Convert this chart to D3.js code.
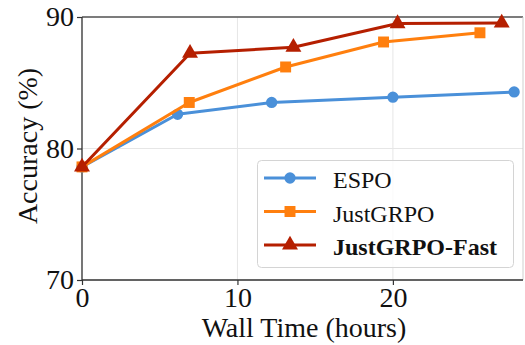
<!DOCTYPE html>
<html>
<head>
<meta charset="utf-8">
<script src="https://cdn.jsdelivr.net/npm/d3@7"></script>
<style>
  body { margin: 0; background: #fff; }
  svg text { font-family: "Liberation Serif", "DejaVu Serif", serif; }
</style>
</head>
<body>
<div class="canvas"></div>
<script>
// data
const seriesNames = ['ESPO', 'JustGRPO', 'JustGRPO-Fast'];
const espoHours = [0, 6.15, 12.2, 20.0, 27.8];
const espoAcc   = [78.6, 82.6, 83.5, 83.9, 84.3];
const grpoHours = [0, 6.9, 13.1, 19.4, 25.6];
const grpoAcc   = [78.6, 83.5, 86.2, 88.1, 88.8];
const fastHours = [0, 6.95, 13.6, 20.3, 27.0];
const fastAcc   = [78.6, 87.25, 87.7, 89.5, 89.55];
const xTicks = [0, 10, 20];
const yTicks = [70, 80, 90];

const colors = ['#4a90d9', '#ff7f0e', '#b51f00'];
const markers = [d3.symbolCircle, d3.symbolSquare, d3.symbolTriangle];
const markerSize = [100, 120, 110];

const series = seriesNames.map((name, i) => {
  const hrs = [espoHours, grpoHours, fastHours][i];
  const acc = [espoAcc, grpoAcc, fastAcc][i];
  return { name, color: colors[i], marker: markers[i], size: markerSize[i],
           points: hrs.map((h, j) => ({ x: h, y: acc[j] })) };
});

//Graph setup
const W = 525, H = 345;
const m = { left: 82, right: 2, top: 17, bottom: 65 };
const svg = d3.select('.canvas').append('svg')
              .attr('width', W).attr('height', H);

const x = d3.scaleLinear().domain([0, 28.37]).range([m.left, W - m.right]);
const y = d3.scaleLinear().domain([70, 90]).range([H - m.bottom, m.top]);

// grid
svg.append('g').selectAll('line').data(xTicks).join('line')
   .attr('x1', d => x(d)).attr('x2', d => x(d))
   .attr('y1', y(70)).attr('y2', y(90))
   .attr('stroke', '#e6e6e6').attr('stroke-width', 1);
svg.append('g').selectAll('line').data(yTicks).join('line')
   .attr('x1', x(0)).attr('x2', W - m.right)
   .attr('y1', d => y(d)).attr('y2', d => y(d))
   .attr('stroke', '#e6e6e6').attr('stroke-width', 1);

// spines: top dark, right light
svg.append('line').attr('x1', x(0)).attr('x2', W - m.right)
   .attr('y1', y(90)).attr('y2', y(90)).attr('stroke', '#555').attr('stroke-width', 1.5);
svg.append('line').attr('x1', W - m.right).attr('x2', W - m.right)
   .attr('y1', y(90)).attr('y2', y(70)).attr('stroke', '#cfcfcf').attr('stroke-width', 1);

// axes
const xAxis = svg.append('g').attr('transform', `translate(0,${y(70)})`)
   .call(d3.axisBottom(x).tickValues(xTicks).tickSize(5).tickPadding(2));
const yAxis = svg.append('g').attr('transform', `translate(${x(0)},0)`)
   .call(d3.axisLeft(y).tickValues(yTicks).tickSize(5).tickPadding(3));
[xAxis, yAxis].forEach(a => {
  a.select('.domain').attr('stroke', '#333').attr('stroke-width', 1.3);
  a.selectAll('.tick line').attr('stroke', '#333').attr('stroke-width', 1.2);
  a.selectAll('.tick text').attr('font-family', '"Liberation Serif", serif')
   .attr('font-size', 28).attr('fill', '#111');
});
xAxis.select('.domain').attr('d', `M${x(0)},0H${W - m.right}`);
yAxis.select('.domain').attr('d', `M0,${y(90)}V${y(70)}`);

// axis titles
svg.append('text').attr('x', 304).attr('y', 337).attr('text-anchor', 'middle')
   .attr('font-size', 28).attr('fill', '#111').text('Wall Time (hours)');
svg.append('text').attr('transform', 'translate(37,146) rotate(-90)')
   .attr('text-anchor', 'middle').attr('font-size', 28).attr('fill', '#111')
   .text('Accuracy (%)');

// lines + markers
const line = d3.line().x(d => x(d.x)).y(d => y(d.y));
series.forEach(s => {
  svg.append('path').datum(s.points).attr('d', line)
     .attr('fill', 'none').attr('stroke', s.color).attr('stroke-width', 3)
     .attr('stroke-linejoin', 'round');
  svg.append('g').selectAll('path').data(s.points).join('path')
     .attr('transform', d => `translate(${x(d.x)},${y(d.y)})`)
     .attr('d', d3.symbol().type(s.marker).size(s.size))
     .attr('fill', s.color);
});

// legend
const lg = svg.append('g');
lg.append('rect').attr('x', 257.5).attr('y', 160.5).attr('width', 256).attr('height', 107)
  .attr('rx', 4).attr('fill', 'rgba(255,255,255,0.8)').attr('stroke', '#d4d4d4');
series.forEach((s, i) => {
  const ly = 178 + i * 33.5;
  lg.append('line').attr('x1', 264).attr('x2', 316).attr('y1', ly).attr('y2', ly)
    .attr('stroke', s.color).attr('stroke-width', 3);
  lg.append('path').attr('transform', `translate(290,${ly})`)
    .attr('d', d3.symbol().type(s.marker).size(s.size)).attr('fill', s.color);
  lg.append('text').attr('x', 333).attr('y', ly + 10).attr('font-size', 24)
    .attr('font-weight', i === 2 ? 'bold' : 'normal').attr('fill', '#111')
    .text(s.name);
});
</script>
</body>
</html>
